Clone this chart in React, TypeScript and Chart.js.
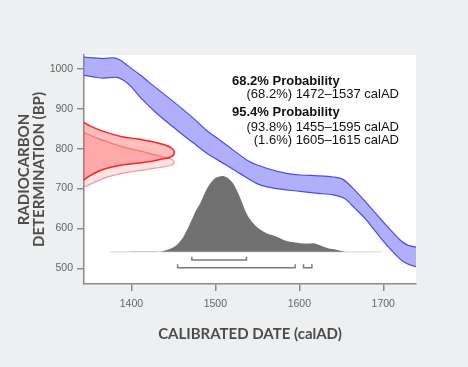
import React, { useEffect, useRef } from "react";
import { Chart, registerables } from "chart.js";

Chart.register(...registerables);

// Axis ranges / ticks
const xRange = [1343.5, 1739];
const yRange = [460.5, 1035];
const xTicks = [1400, 1500, 1600, 1700];
const yTicks = [500, 600, 700, 800, 900, 1000];

// Calibration curve (2-sigma band): upper and lower edges
const curveUpperYears = [1328, 1343, 1355, 1367, 1379, 1387, 1395, 1411, 1422, 1450, 1474, 1489, 1505, 1521, 1541, 1561, 1585, 1601, 1622, 1640, 1652, 1666, 1680, 1700, 1720, 1729, 1739, 1752];
const curveUpperBP = [1034, 1030, 1028, 1026, 1028, 1022, 1009, 984, 965, 918, 876, 847, 822, 797, 767, 751, 738, 734, 732, 729, 723, 696, 664, 616, 571, 558, 553, 551];
const curveLowerYears = [1328, 1343, 1355, 1367, 1383, 1391, 1400, 1410, 1430, 1454, 1474, 1493, 1513, 1529, 1549, 1569, 1601, 1622, 1640, 1654, 1666, 1680, 1700, 1720, 1729, 1739, 1752];
const curveLowerBP = [987, 984, 980, 977, 979, 971, 955, 930, 889, 847, 814, 784, 759, 738, 713, 701, 693, 688, 684, 675, 651, 621, 568, 523, 511, 504, 500];

// Radiocarbon measurement distributions (drawn sideways along the BP axis)
const measAYears = [1328, 1343, 1357, 1373, 1389, 1408, 1428, 1442, 1448, 1451, 1448, 1434, 1420, 1389, 1365, 1349, 1343, 1328];
const measABP = [890, 866, 851, 839, 830, 824, 816, 808, 801, 792, 780, 773, 767, 759, 747, 730, 721, 697];
const measBYears = [1328, 1345, 1365, 1389, 1420, 1440, 1448, 1451, 1448, 1428, 1400, 1373, 1353, 1345, 1328];
const measBBP = [858, 839, 822, 805, 789, 778, 773, 767, 759, 751, 742, 730, 713, 705, 683];

// Calibrated date probability (relative, peak = 100)
const calYears = [1374, 1434, 1442, 1447, 1454, 1462, 1470, 1476, 1482, 1488, 1494, 1500, 1508, 1514, 1521, 1529, 1537, 1542, 1549, 1561, 1573, 1585, 1601, 1609, 1617, 1622, 1629, 1637, 1645, 1656, 1697];
const calDensity = [0, 0, 2.3, 4.2, 8.8, 19.8, 37.5, 52.4, 63.9, 78.8, 90.3, 97.3, 100, 98, 90.3, 72.6, 50.7, 41.8, 33, 24.3, 19.8, 14.1, 11.1, 10.8, 11.1, 9.5, 6.6, 3.8, 2.3, 0, 0];
const calBaseBP = 541.6;
const calScale = 1.9; // BP units per density unit

// Probability ranges
const range68 = [[1472, 1537]];
const range95 = [[1455, 1595], [1605, 1615]];
const range68Line = [521, 529];
const range95Line = [501.5, 510];

// Annotation text
const annotBold = ["68.2% Probability", "95.4% Probability"];
const annot68 = ["(68.2%) 1472\u20131537 calAD"];
const annot95 = ["(93.8%) 1455\u20131595 calAD", "(1.6%) 1605\u20131615 calAD"];

const xTitle = "CALIBRATED DATE (calAD)";
const yTitle = ["RADIOCARBON", "DETERMINATION (BP)"];

const zip = (xs: number[], ys: number[]) => xs.map((x, i) => ({ x, y: ys[i] }));

const bracketData = (ranges: number[][], lv: number[]) => {
  const pts: any[] = [];
  ranges.forEach(([a, b], i) => {
    if (i > 0) pts.push({ x: NaN, y: NaN });
    pts.push({ x: a, y: lv[1] }, { x: a, y: lv[0] }, { x: b, y: lv[0] }, { x: b, y: lv[1] });
  });
  return pts;
};

const bgPlugin = {
  id: "bg",
  beforeDraw(chart: any) {
    const { ctx, chartArea: a, width, height } = chart;
    ctx.save();
    ctx.fillStyle = "#eeeff1";
    ctx.fillRect(0, 0, width, height);
    ctx.fillStyle = "#ffffff";
    ctx.fillRect(a.left, a.top, a.right - a.left, a.bottom - a.top);
    ctx.restore();
  },
};

const textPlugin = {
  id: "annot",
  afterDraw(chart: any) {
    const { ctx } = chart;
    ctx.save();
    ctx.fillStyle = "#111";
    ctx.textBaseline = "middle";
    ctx.font = "bold 13px 'Liberation Sans', Arial, sans-serif";
    ctx.textAlign = "left";
    ctx.fillText(annotBold[0], 232, 81);
    ctx.fillText(annotBold[1], 232, 112);
    ctx.font = "13px 'Liberation Sans', Arial, sans-serif";
    ctx.textAlign = "right";
    ctx.fillText(annot68[0], 399, 94);
    ctx.fillText(annot95[0], 399, 127);
    ctx.fillText(annot95[1], 399, 140.5);
    ctx.restore();
  },
};

export default function App() {
  const ref = useRef<HTMLCanvasElement | null>(null);
  useEffect(() => {
    if (!ref.current) return;
    const tickFont = { family: "'Liberation Sans', Arial, sans-serif", size: 10.5 };
    const titleFont = { family: "Lato, 'Open Sans', sans-serif", size: 15, weight: "bold" as const, lineHeight: 1 };
    const chart = new Chart(ref.current, {
      type: "line",
      data: {
        datasets: [
          {
            data: zip(measAYears, measABP),
            borderColor: "#ff2020",
            borderWidth: 1.5,
            backgroundColor: "rgba(255,40,40,0.30)",
            fill: "shape",
            tension: 0.35,
          },
          {
            data: zip(measBYears, measBBP),
            borderColor: "rgba(255,90,90,0.6)",
            borderWidth: 1.2,
            backgroundColor: "rgba(255,70,70,0.15)",
            fill: "shape",
            tension: 0.35,
          },
          {
            data: [...zip(curveUpperYears, curveUpperBP), ...zip(curveLowerYears, curveLowerBP).reverse()],
            borderColor: "#4a4aee",
            borderWidth: 1.2,
            backgroundColor: "rgba(95,95,245,0.5)",
            fill: "shape",
            tension: 0.3,
          },
          {
            data: calYears.map((x, i) => ({ x, y: calBaseBP + calDensity[i] * calScale })),
            borderWidth: 0,
            borderColor: "rgba(0,0,0,0)",
            backgroundColor: "#717171",
            fill: { value: calBaseBP },
            tension: 0.3,
          },
          {
            data: [{ x: calYears[0], y: calBaseBP }, { x: calYears[calYears.length - 1], y: calBaseBP }],
            borderColor: "#e3e3e3",
            borderWidth: 1.5,
            fill: false,
          },
          {
            data: bracketData(range68, range68Line),
            borderColor: "#7a7a7a",
            borderWidth: 1.5,
            fill: false,
            spanGaps: false,
          },
          {
            data: bracketData(range95, range95Line),
            borderColor: "#7a7a7a",
            borderWidth: 1.5,
            fill: false,
            spanGaps: false,
          },
        ],
      },
      options: {
        responsive: false,
        devicePixelRatio: 1,
        animation: false,
        layout: { padding: { top: 55, right: 52, left: 0, bottom: 0 } },
        elements: { point: { radius: 0, hoverRadius: 0 } },
        plugins: { legend: { display: false }, tooltip: { enabled: false } },
        events: [],
        scales: {
          x: {
            type: "linear",
            min: xRange[0],
            max: xRange[1],
            afterFit: (s: any) => { s.height = 83; },
            afterBuildTicks: (s: any) => { s.ticks = xTicks.map((value) => ({ value })); },
            ticks: {
              maxRotation: 0,
              autoSkip: false,
              padding: 7,
              color: "#666",
              font: tickFont,
              callback: (v: any) => String(v),
            },
            grid: { display: true, drawOnChartArea: false, drawTicks: true, tickLength: 7, color: "#8a8a8a", lineWidth: 1.5 },
            border: { display: true, color: "#8a8a8a", width: 1.5 },
            title: { display: true, text: xTitle, color: "#4d4d4d", font: titleFont, padding: { top: 0, bottom: 25 } },
          },
          y: {
            type: "linear",
            min: yRange[0],
            max: yRange[1],
            afterFit: (s: any) => { s.width = 84; },
            afterBuildTicks: (s: any) => { s.ticks = yTicks.map((value) => ({ value })); },
            ticks: {
              autoSkip: false,
              padding: 4,
              color: "#666",
              font: tickFont,
              callback: (v: any) => String(v),
            },
            grid: { display: true, drawOnChartArea: false, drawTicks: true, tickLength: 7, color: "#8a8a8a", lineWidth: 1.5 },
            border: { display: true, color: "#8a8a8a", width: 1.5 },
            title: { display: true, text: yTitle, color: "#4d4d4d", font: titleFont, padding: { top: 16.5, bottom: 0 } },
          },
        },
      } as any,
      plugins: [bgPlugin, textPlugin],
    });
    return () => chart.destroy();
  }, []);
  return (
    <div style={{ position: "fixed", left: 0, top: 0, width: 468, height: 367, background: "#eeeff1" }}>
      <canvas ref={ref} width={468} height={367} style={{ display: "block" }} />
    </div>
  );
}
